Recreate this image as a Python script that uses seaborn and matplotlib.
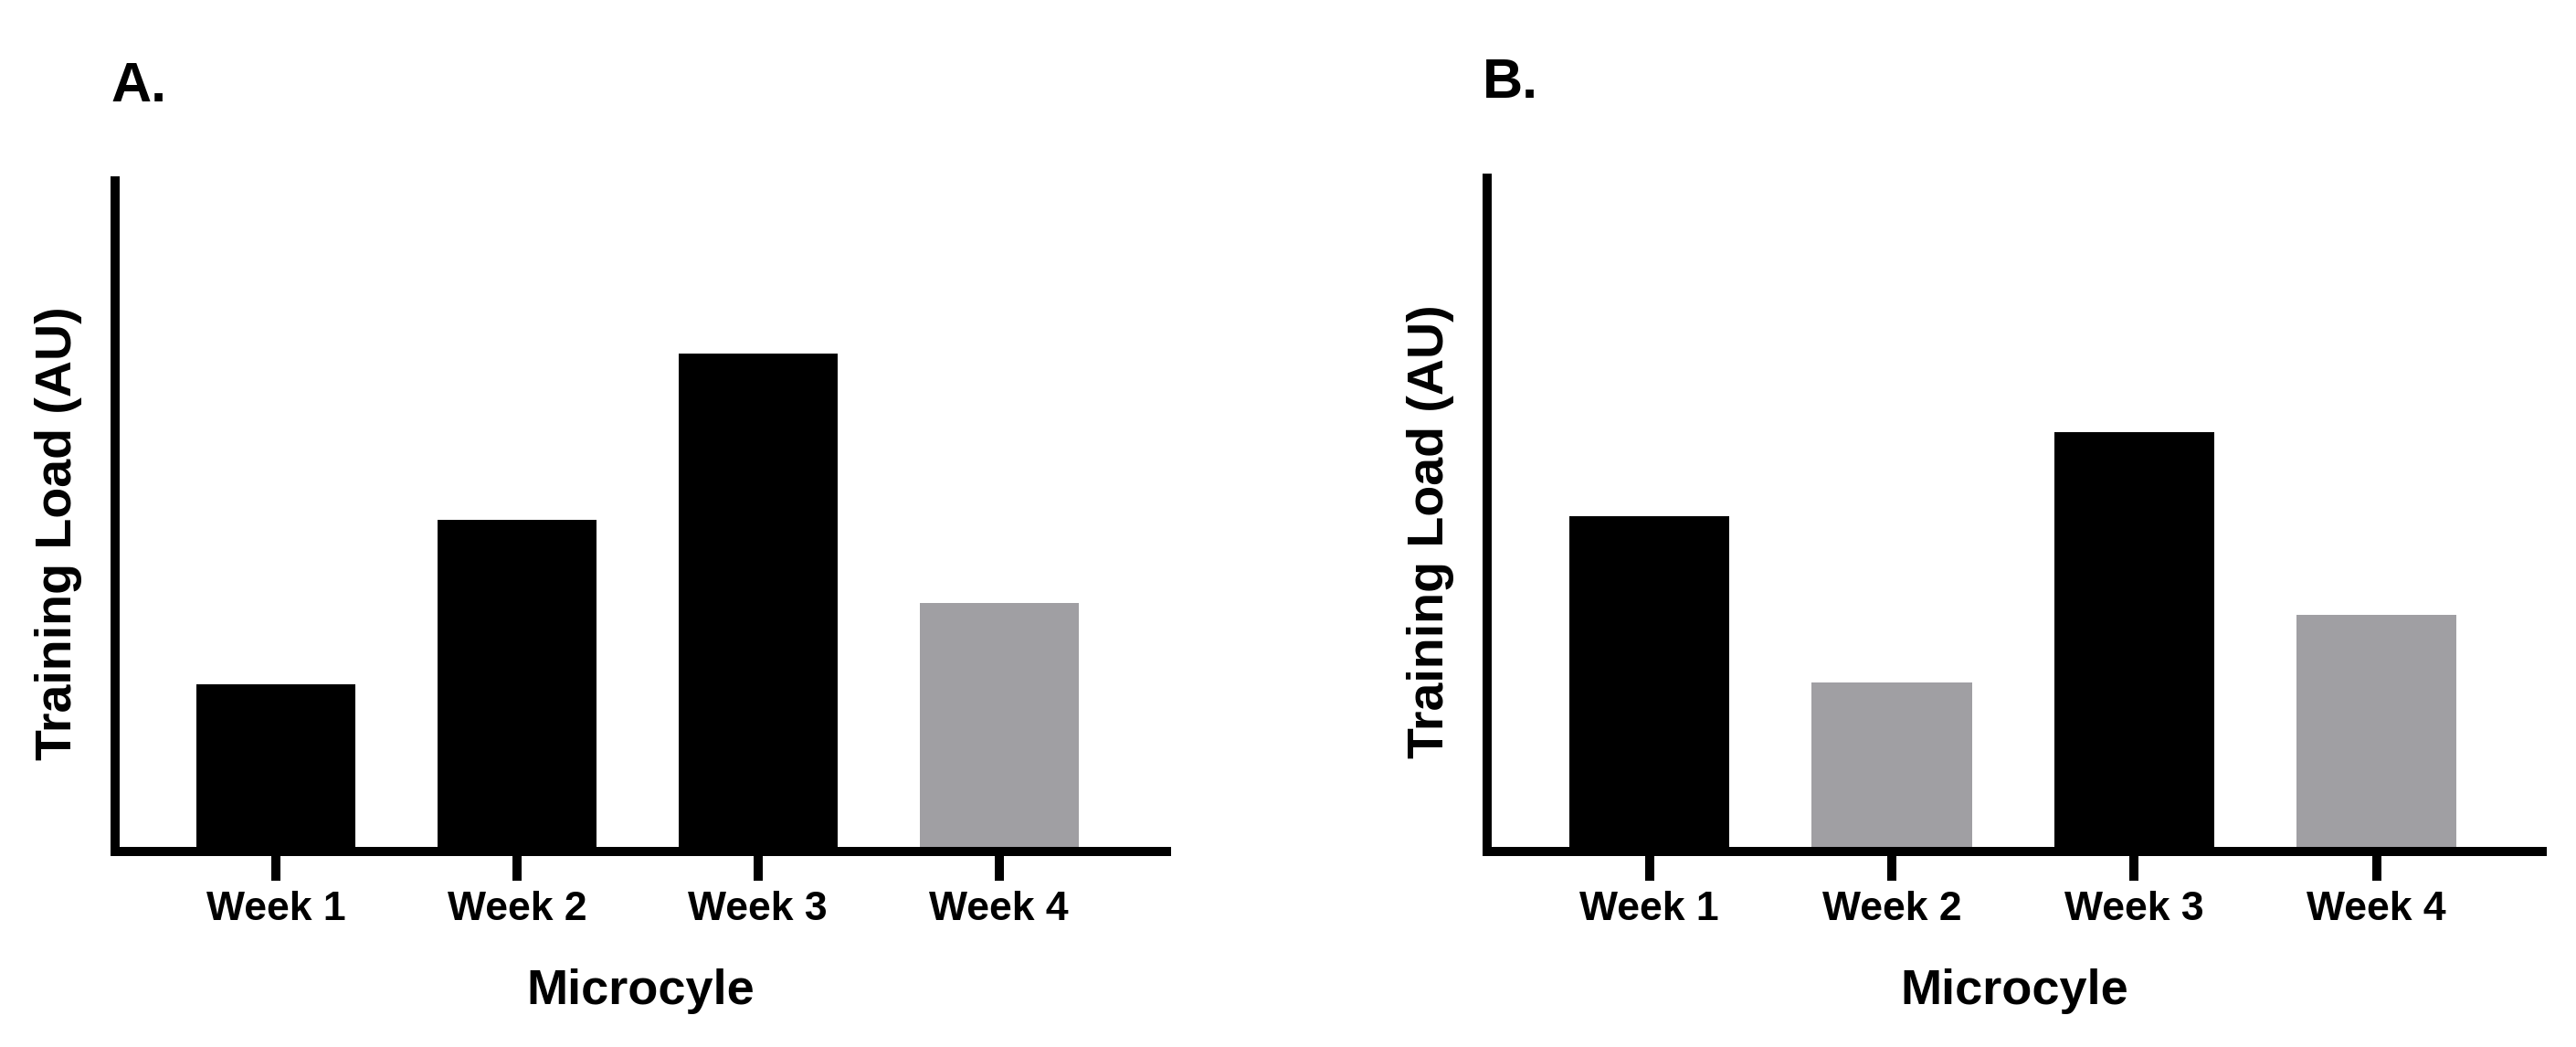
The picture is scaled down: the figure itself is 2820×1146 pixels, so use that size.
import matplotlib
matplotlib.use("Agg")
import matplotlib.pyplot as plt
import seaborn as sns
import pandas as pd

weeks = ["Week 1", "Week 2", "Week 3", "Week 4"]
load_a = [102, 202, 303, 151]
phase_a = ["Load", "Load", "Load", "Deload"]
load_b = [204, 103, 255, 144]
phase_b = ["Load", "Deload", "Load", "Deload"]
panel_labels = ["A.", "B."]
ylabel = "Training Load (AU)"
xlabel = "Microcyle"

colors = {"Load": "#000000", "Deload": "#a09fa3"}

sns.set_theme(style="ticks")
plt.rcParams['font.family'] = ['Liberation Sans', 'DejaVu Sans']
plt.rcParams['font.weight'] = 'bold'

fig = plt.figure(figsize=(14.1, 5.73), dpi=200)
axA = fig.add_axes([0.0446, 0.1868, 0.4082, 0.6402])
axB = fig.add_axes([0.5772, 0.1868, 0.4098, 0.6432])

specs = [
    (axA, load_a, phase_a, 408, (-0.667, 3.694), panel_labels[0]),
    (axB, load_b, phase_b, 410, (-0.67, 3.684), panel_labels[1]),
]
for ax, vals, ph, ytop, xl, lab in specs:
    df = pd.DataFrame({"week": weeks, "load": vals, "phase": ph})
    sns.barplot(data=df, x="week", y="load", hue="phase", palette=colors,
                dodge=False, width=0.66, legend=False, ax=ax,
                saturation=1, edgecolor="none", linewidth=0)
    ax.set_ylim(0, ytop)
    ax.set_xlim(*xl)
    ax.set_yticks([])
    sns.despine(ax=ax)
    for s in ["left", "bottom"]:
        ax.spines[s].set_linewidth(3.6)
        ax.spines[s].set_color("black")
        ax.spines[s].set_capstyle("projecting")
    ax.tick_params(axis="x", length=11.5, width=3.6, color="black", pad=4,
                   labelsize=16, labelcolor="black")
    for t in ax.get_xticklabels():
        t.set_fontweight("bold")
    ax.set_xlabel(xlabel, fontsize=19.5, fontweight="bold", color="black", labelpad=16)
    ax.set_ylabel(ylabel, fontsize=20, fontweight="bold", color="black")
    ax.yaxis.set_label_coords(-0.031, 0.475)
    ax.text(-0.004, 1.14, lab, transform=ax.transAxes, fontsize=22, fontweight="bold",
            color="black", ha="left", va="center")

fig.savefig("out.png", dpi=200, facecolor="white")
